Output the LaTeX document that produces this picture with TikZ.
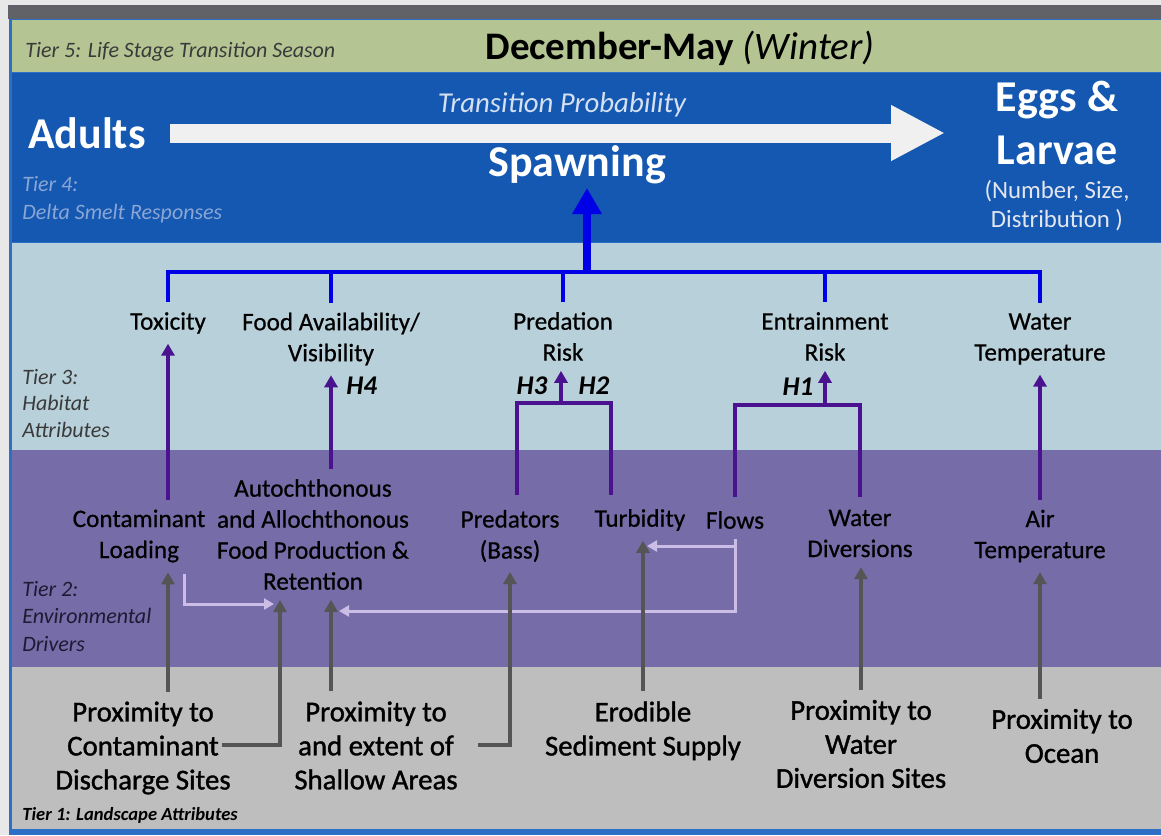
\documentclass[tikz,border=0pt]{standalone}
\usepackage{fontspec}
\setmainfont{Carlito}
\newfontfamily\heavyf[FakeBold=1.2]{Carlito}
\newfontfamily\midf[FakeBold=0.6]{Carlito}
\usetikzlibrary{arrows.meta}
\definecolor{bgout}{HTML}{E8E8E8}
\definecolor{topbar}{HTML}{606268}
\definecolor{tfive}{HTML}{B4C593}
\definecolor{tfour}{HTML}{1558B2}
\definecolor{tthree}{HTML}{B8D0D9}
\definecolor{ttwo}{HTML}{766CA7}
\definecolor{tone}{HTML}{BEBEBE}
\definecolor{framec}{HTML}{2E6FC6}
\definecolor{bluel}{HTML}{0000E6}
\definecolor{purp}{HTML}{4B1290}
\definecolor{greyl}{HTML}{555555}
\definecolor{lilac}{HTML}{CBBDE6}
\definecolor{arrw}{HTML}{F0F0F0}
\definecolor{tierfourc}{HTML}{8AA6D4}
\definecolor{tierdark}{HTML}{3A3A3A}
\definecolor{tiertwoc}{HTML}{1D1A33}
\definecolor{transc}{HTML}{D5E0F2}
\definecolor{numc}{HTML}{E3E6EF}
\begin{document}
\begin{tikzpicture}[x=0.5pt,y=-0.5pt,
  lab/.style={align=center, inner sep=0pt, outer sep=5pt, font=\midf\fontsize{12.6}{15.5}\selectfont, text=black},
  lone/.style={align=center, inner sep=0pt, outer sep=5pt, font=\heavyf\fontsize{14.4}{17}\selectfont, text=black},
  tier/.style={anchor=west, align=left, inner sep=0pt, font=\fontsize{11}{13.3}\selectfont\itshape},
  big/.style={align=center, inner sep=0pt, outer sep=5pt, font=\fontsize{22}{26.5}\selectfont\bfseries, text=white},
  hlab/.style={inner sep=0pt, font=\fontsize{13.5}{15}\selectfont\bfseries\itshape, text=black},
  bline/.style={draw=bluel, line width=2pt},
  pline/.style={draw=purp, line width=1.75pt},
  parr/.style={pline, -{Triangle[length=6pt,width=6.5pt]}},
  garr/.style={draw=greyl, line width=1.75pt, -{Triangle[length=6pt,width=6.5pt]}},
  larr/.style={draw=lilac, line width=1.5pt, -{Triangle[length=5pt,width=5.5pt]}},
]
\useasboundingbox (0,0) rectangle (1161,835);
% backgrounds
\fill[bgout] (0,0) rectangle (1161,835);
\fill[topbar] (8,5) rectangle (1161,19);
\fill[framec] (9,19) rectangle (1161,835);
\fill[tfive] (12,20) rectangle (1161,72);
\fill[tfour] (12,73) rectangle (1161,242);
\fill[tthree] (12,243) rectangle (1161,450);
\fill[ttwo] (12,450) rectangle (1161,667);
\fill[tone] (12,667) rectangle (1161,829);

% tier labels
\node[tier, text=tierdark] (t5) at (25,52) {Tier 5: Life Stage Transition Season};
\node[tier, text=tierfourc, font=\fontsize{11}{14}\selectfont\itshape] (t4) at (22,200) {Tier 4:\\Delta Smelt Responses};
\node[tier, text=tierdark] (t3) at (22,403.5) {Tier 3:\\Habitat\\Attributes};
\node[tier, text=tiertwoc, font=\fontsize{11}{13.75}\selectfont\itshape] (t2) at (22,616.5) {Tier 2:\\Environmental\\Drivers};
\node[tier, text=black, font=\fontsize{9.3}{11}\selectfont\bfseries\itshape] (t1) at (22,815) {Tier 1: Landscape Attributes};

% tier 5 / tier 4
\node[inner sep=0pt, font=\fontsize{19.5}{22}\selectfont, text=black] (season) at (680,48) {\textbf{December-May} \textit{(Winter)}};
\node[inner sep=0pt, font=\fontsize{14.4}{16}\selectfont\itshape, text=transc] (tp) at (562,105) {Transition Probability};
\node[big] (adults) at (87,133) {Adults};
\node[big] (spawn) at (577,165) {Spawning};
\node[big] (eggs) at (1057,123) {Eggs \&\\Larvae};
\node[align=center, inner sep=0pt, font=\fontsize{12.4}{14.5}\selectfont, text=numc] (num) at (1057,206) {(Number, Size,\\Distribution )};
\coordinate (ta) at (170,133);
\coordinate (tb) at (945,133);
\draw[arrw, line width=9.5pt, -{Triangle[length=27pt,width=26pt]}] (ta) -- (tb);

% tier 3 nodes
\node[lab] (tox) at (168,323) {Toxicity};
\node[lab] (food) at (331,339) {Food Availability/\\Visibility};
\node[lab] (pred) at (563,336.5) {Predation\\Risk};
\node[lab] (entr) at (825,336.5) {Entrainment\\Risk};
\node[lab] (wtemp) at (1040,339) {Water\\Temperature};

% tier 2 nodes
\node[lab] (contam) at (139,536) {Contaminant\\Loading};
\node[lab] (auto) at (313,534.5) {Autochthonous\\and Allochthonous\\Food Production \&\\Retention};
\node[lab] (bass) at (510,536) {Predators\\(Bass)};
\node[lab] (turb) at (640,520) {Turbidity};
\node[lab] (flows) at (735,520) {Flows};
\node[lab] (wdiv) at (860,533.5) {Water\\Diversions};
\node[lab] (air) at (1040,536) {Air\\Temperature};

% tier 1 nodes
\node[lone] (pa) at (143,748) {Proximity to\\Contaminant\\Discharge Sites};
\node[lone] (pb) at (376,745.5) {Proximity to\\and extent of\\Shallow Areas};
\node[lone] (pc) at (643,730.8) {Erodible\\Sediment Supply};
\node[lone] (pd) at (861,744) {Proximity to\\Water\\Diversion Sites};
\node[lone] (pe) at (1062,736) {Proximity to\\Ocean};

% blue bracket to Spawning
\coordinate (bj) at (587,272);
\coordinate (sp) at (587,188);
\draw[bline] (tox.north) -- (tox.north |- bj) -- (wtemp.north |- bj) -- (wtemp.north);
\draw[bline] (food.north) -- (food.north |- bj);
\draw[bline] (pred.north) -- (pred.north |- bj);
\draw[bline] (entr.north) -- (entr.north |- bj);
\draw[draw=bluel, line width=4pt, -{Triangle[length=13pt,width=14pt]}] ([yshift=1pt]bj) -- (sp);

% purple links tier 2 -> tier 3
\draw[parr] (contam.north -| tox.south) -- (tox.south);
\draw[parr] (auto.north -| food.south) -- (food.south);
\node[hlab, anchor=west] (h4) at (346,386) {H4};
\coordinate (pl) at (517,495);
\coordinate (pr) at (611,495);
\coordinate (pj) at (561,403);
\draw[pline] (pl) |- (pj) -| (pr);
\draw[parr] (pj) -- (pred.south -| pj);
\node[hlab] (h3) at (532,386) {H3};
\node[hlab] (h2) at (594,386) {H2};
\coordinate (el) at (735,497);
\coordinate (er) at (860,497);
\coordinate (ej) at (825,405);
\draw[pline] (el) |- (ej) -| (er);
\draw[parr] (ej) -- (entr.south -| ej);
\node[hlab] (h1) at (798,387) {H1};
\draw[parr] (air.north) -- (wtemp.south);

% lilac feedback arrows
\coordinate (l1s) at (184,574);
\coordinate (l1e) at (274,604);
\draw[larr] (l1s) |- (l1e);
\coordinate (l2a) at (647,546);
\coordinate (l2b) at (339,611);
\draw[draw=lilac, line width=1.5pt] (flows.south) -- (flows.south |- l2a);
\draw[larr] (flows.south |- l2a) -- (l2a);
\draw[larr] (flows.south |- l2a) |- (l2b);

% grey links tier 1 -> tier 2
\draw[garr] (pa.north -| tox.south) -- (contam.south -| tox.south);
\coordinate (g2s) at (222,745);
\coordinate (g2e) at (280,600);
\draw[garr] (g2s) -| (g2e);
\draw[garr] (pb.north -| food.south) -- (auto.south -| food.south);
\coordinate (g4s) at (478,745);
\draw[garr] (g4s) -| (bass.south);
\draw[garr] (pc.north) -- (turb.south -| pc.north);
\draw[garr] (pd.north) -- (wdiv.south -| pd.north);
\draw[garr] (pe.north -| air.south) -- (air.south);
\end{tikzpicture}
\end{document}
